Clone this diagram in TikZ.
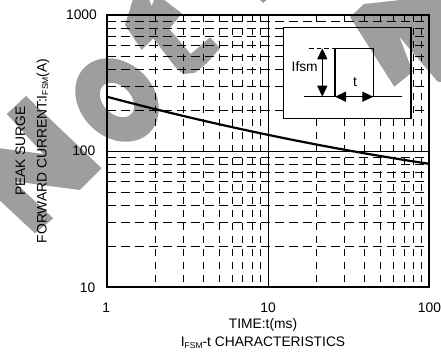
\documentclass[tikz,border=0pt]{standalone}
\usepackage{fontspec}
\setmainfont{Liberation Sans}
\usetikzlibrary{arrows.meta}
\definecolor{stampgray}{RGB}{158,158,158}
\newcommand{\lowsub}[1]{\raisebox{-1.6pt}{\fontsize{8.5}{9}\selectfont #1}}

\begin{document}
\begin{tikzpicture}[x=1pt,y=-1pt,
  every node/.style={font=\fontsize{13.8}{16}\selectfont, inner sep=0pt},
  vminor/.style={line width=0.9pt, dash pattern=on 7pt off 6pt},
  hminor/.style={line width=0.9pt, dash pattern=on 9pt off 5pt},
  major/.style={line width=0.8pt},
  frame/.style={line width=2pt},
  curve/.style={line width=2.2pt},
  stamp/.style={fill=stampgray},
  pulse/.style={line width=1.3pt},
  dim/.style={line width=1.3pt, {Triangle[length=11pt,width=10pt]}-{Triangle[length=11pt,width=10pt]}}
  ]
  \useasboundingbox (0,0) rectangle (441,352);

  % stamp behind the chart
  \begin{scope}
    \clip (0,0) rectangle (441,352);
    \fill[stamp] (6.7,114) -- (26,96) -- (101.7,168.3) -- (80,190) -- (13.7,181.3) -- (53.3,218.3)
      -- (35,233.3) -- (0,200.7) -- (0,148.3) -- (43.3,154) -- cycle;
    \fill[stamp, even odd rule, rotate around={45:(117,100)}] (117,100) ellipse [x radius=37, y radius=46]
      (117,100) ellipse [x radius=14, y radius=20];
    \fill[stamp] (133.3,-2) -- (125,25) -- (141.7,50) -- (153.3,38.3) -- (175,66.7) -- (183.3,74)
      -- (195,72.7) -- (207.3,62.7) -- (220,48.3) -- (210,37.3) -- (199.3,46.7) -- (190.7,54)
      -- (169.3,29) -- (181.7,13.3) -- (161.7,-2) -- (155,-2) -- (151.7,6) -- (148.3,-2) -- cycle;
    \fill[stamp] (259,-1) -- (268,-1) -- (263,3) -- cycle;
    \fill[stamp] (364,4) -- (419,-2) -- (443,-2) -- (443,82) -- (437.7,81.7) -- (399.3,36.7)
      -- (412.7,71.7) -- (394.3,86.7) -- (350,17) -- cycle;
  \end{scope}

  % grid
  \begin{scope}[even odd rule]
    \clip (106.7,15) rectangle (429,287.3) (283.3,27.3) rectangle (411,118.3);
    \foreach \d in {0,1}
      \foreach \m in {2,...,9} {
        \draw[vminor] ({106.7+161.15*(\d+log10(\m))},15) -- ++(0,272.3);
        \draw[hminor] (106.7,{287.3-136.15*(\d+log10(\m))}) -- ++(322.3,0);
      }
  \end{scope}
  \draw[major] (268,15) -- (268,287.3);
  \draw[major] (106.7,151.2) -- (429,151.2);

  \draw[curve] plot[domain=0:2, samples=50, smooth]
    ({106.7+161.15*\x}, {287.3-136.15*(1.40-0.3135*\x+0.0335*\x*\x)});
  \draw[frame] (106.7,15) rectangle (429,287.3);

  % pulse sketch
  \draw[line width=1.5pt] (283.3,27.3) rectangle (411,118.3);
  \coordinate (base w) at (304.3,96.7);
  \coordinate (base e) at (401.7,96.7);
  \coordinate (pulse sw) at (335,96.7);
  \coordinate (pulse nw) at (335,48.3);
  \coordinate (pulse ne) at (373.3,48.3);
  \coordinate (pulse se) at (373.3,96.7);
  \coordinate (peak w) at (309,48.3);
  \coordinate (amp top) at (322.3,48.3);
  \coordinate (amp bot) at (322.3,96.7);
  \draw[pulse] (base w) -- (base e);
  \draw[pulse] (pulse sw) -- (pulse nw) -- (pulse ne) -- (pulse se);
  \draw[pulse, dash pattern=on 4.5pt off 3pt] (peak w) -- (pulse nw);
  \draw[dim] (amp top) -- (amp bot);
  \draw[dim] (pulse sw) -- (pulse se);
  \node (ifsm) at (304.7,66.7) {Ifsm};
  \node (width) at (355,82.5) {t};

  % axis labels
  \node[anchor=east] (y1000) at (97,15) {1000};
  \node[anchor=east] (y100) at (95.5,151.2) {100};
  \node[anchor=east] (y10) at (95.5,287.3) {10};
  \node (x1) at (106.2,307.3) {1};
  \node (x10) at (268,307.3) {10};
  \node (x100) at (429.5,307.3) {100};
  \node[anchor=base] (xtitle) at (263,328) {TIME:t(ms)};
  \node[anchor=base] (caption) at (263,346.6) {I\lowsub{FSM}-t CHARACTERISTICS};
  \node[anchor=base, rotate=90] (ytitle a) at (25.2,151) {PEAK SURGE};
  \node[anchor=base, rotate=90] (ytitle b) at (46.5,151) {FORWARD CURRENT:I\lowsub{FSM}(A)};
\end{tikzpicture}
\end{document}
